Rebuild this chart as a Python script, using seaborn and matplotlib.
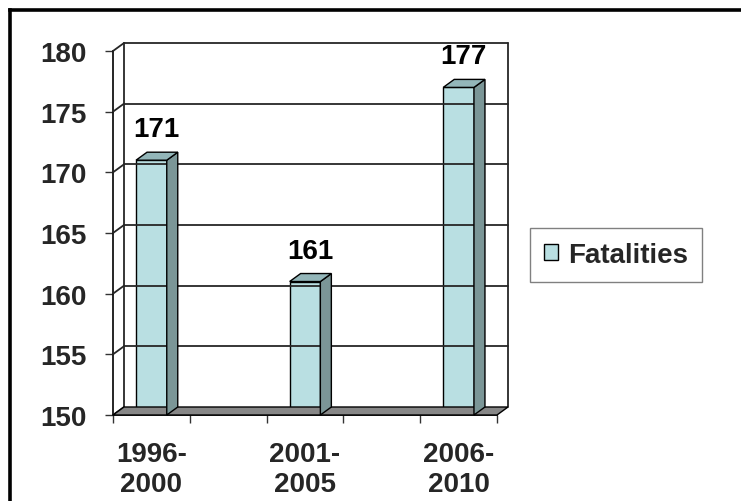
import matplotlib
matplotlib.use("Agg")
import numpy as np
import pandas as pd
import matplotlib.pyplot as plt
import seaborn as sns
from matplotlib.patches import Polygon
from matplotlib.lines import Line2D
from matplotlib.transforms import IdentityTransform

# ---- data ----
periods = ["1996-\n2000", "2001-\n2005", "2006-\n2010"]
fatalities = [171, 161, 177]
series_name = "Fatalities"
y_ticks = [150, 155, 160, 165, 170, 175, 180]

# ---- style ----
FRONT = "#B9DFE2"
TOP = "#93B6B9"
SIDE = "#7B9697"
FLOOR = "#878787"
GRID = "#262626"

sns.set_style("ticks")
plt.rcParams["font.family"] = ["Liberation Sans", "DejaVu Sans"]
plt.rcParams["font.weight"] = "bold"

W, H = 741, 502
fig = plt.figure(figsize=(W / 100, H / 100), dpi=100)
ax = fig.add_axes([113 / W, 1 - 416 / H, 384 / W, 364 / H])

df = pd.DataFrame({"period": periods, "value": fatalities})
sns.barplot(data=df, x="period", y="value", ax=ax, width=0.2, color=FRONT,
            saturation=1, edgecolor="black", linewidth=1.0, label=series_name,
            zorder=4)
bars = list(ax.patches)

ax.set_xlim(-0.25, 2.25)
ax.set_ylim(150, 180)
ax.set_yticks(y_ticks)
ax.set_xlabel("")
ax.set_ylabel("")
ax.set_xticks(np.arange(-0.25, 2.26, 0.5), minor=True)

for s in ["top", "right"]:
    ax.spines[s].set_visible(False)
for s in ["left", "bottom"]:
    ax.spines[s].set_color("black")
    ax.spines[s].set_linewidth(1.2)
    ax.spines[s].set_zorder(3)

ax.tick_params(axis="y", which="major", left=True, length=6, width=1.0,
               color="#333333", pad=13, labelsize=20)
ax.tick_params(axis="x", which="major", bottom=True, length=0, pad=19,
               labelsize=20)
ax.tick_params(axis="x", which="minor", bottom=True, length=6, width=1.0,
               color="#333333")
for lbl in ax.get_xticklabels() + ax.get_yticklabels():
    lbl.set_fontweight("bold")
for lbl in ax.get_xticklabels():
    lbl.set_linespacing(1.2)

# ---- 3D walls, grid and floor (depth offset in pixels) ----
dx, dy = 11, 8
T = ax.transData
ident = IdentityTransform()


def P(x, y):
    return np.array(T.transform((x, y)))


off = np.array([dx, dy])
x0, x1 = ax.get_xlim()
for v in y_ticks:
    fl = P(x0, v)
    bl = fl + off
    br = P(x1, v) + off
    if v != y_ticks[0]:
        fig.add_artist(Line2D([bl[0], br[0]], [bl[1], br[1]], transform=ident,
                              color=GRID, lw=1.3, zorder=1))
    fig.add_artist(Line2D([fl[0], bl[0]], [fl[1], bl[1]], transform=ident,
                          color=GRID, lw=1.3, zorder=1))
for xe in (x0, x1):
    b = P(xe, y_ticks[0]) + off
    t = P(xe, y_ticks[-1]) + off
    fig.add_artist(Line2D([b[0], t[0]], [b[1], t[1]], transform=ident,
                          color=GRID, lw=1.3, zorder=1))

floor = Polygon([P(x0, 150), P(x1, 150), P(x1, 150) + off, P(x0, 150) + off],
                closed=True, transform=ident, facecolor=FLOOR,
                edgecolor="black", lw=1.0, zorder=2)
fig.add_artist(floor)

# ---- 3D bar faces ----
for bar, val in zip(bars, fatalities):
    bx0 = bar.get_x()
    bx1 = bx0 + bar.get_width()
    top = bar.get_y() + bar.get_height()
    fl_t, fr_t, fr_b = P(bx0, top), P(bx1, top), P(bx1, 150)
    top_face = Polygon([fl_t, fr_t, fr_t + off, fl_t + off], closed=True,
                       transform=ident, facecolor=TOP, edgecolor="black",
                       lw=1.0, zorder=5)
    side_face = Polygon([fr_b, fr_t, fr_t + off, fr_b + off], closed=True,
                        transform=ident, facecolor=SIDE, edgecolor="black",
                        lw=1.0, zorder=5)
    fig.add_artist(side_face)
    fig.add_artist(top_face)
    ax.annotate(f"{val}", xy=(bx0 + bar.get_width() / 2, top),
                xytext=(5, 31), textcoords="offset pixels", ha="center",
                va="center", fontsize=20, fontweight="bold", color="black",
                annotation_clip=False)

# ---- legend ----
leg = ax.legend(loc="center", bbox_to_anchor=(616 / W, 1 - 256 / H),
                bbox_transform=fig.transFigure, frameon=True, fancybox=False,
                edgecolor="#808080", framealpha=1, handlelength=0.5,
                handleheight=0.5, handletextpad=0.35, borderpad=0.5,
                prop={"weight": "bold", "size": 20})
leg.get_frame().set_linewidth(1.0)

# ---- outer border (top and left visible) ----
fig.add_artist(Line2D([10 / W, 10 / W], [0, 1 - 10.5 / H],
                      transform=fig.transFigure, color="black", lw=2.6,
                      solid_capstyle="projecting"))
fig.add_artist(Line2D([10 / W, 1], [1 - 10.5 / H, 1 - 10.5 / H],
                      transform=fig.transFigure, color="black", lw=2.6,
                      solid_capstyle="projecting"))

fig.savefig("out.png", dpi=100, facecolor="white")
